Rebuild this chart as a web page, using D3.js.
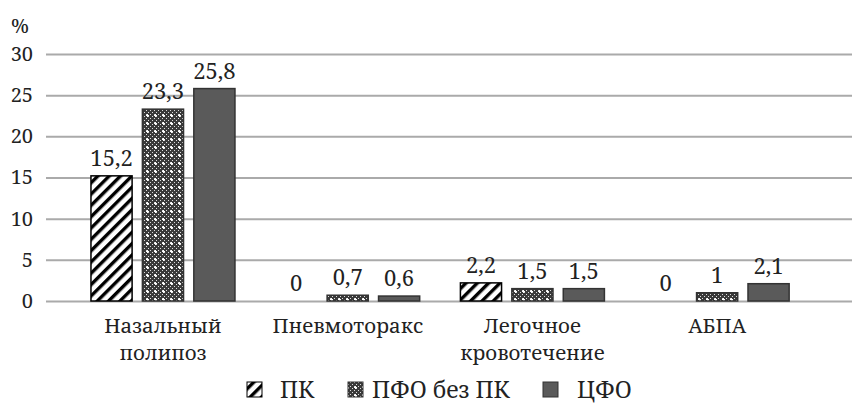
<!DOCTYPE html>
<html><head><meta charset="utf-8">
<script src="https://cdn.jsdelivr.net/npm/d3@7"></script>
<style>body{margin:0;background:#fff}svg{display:block}</style>
</head><body><svg id="c" width="852" height="410"></svg>
<script>
const categories = [["Назальный","полипоз"],["Пневмоторакс"],["Легочное","кровотечение"],["АБПА"]];
const seriesNames = ["ПК","ПФО без ПК","ЦФО"];
const valuesPK = [15.2, 0, 2.2, 0];
const valuesPFO = [23.3, 0.7, 1.5, 1];
const valuesCFO = [25.8, 0.6, 1.5, 2.1];
const valueLabels = [["15,2","0","2,2","0"],["23,3","0,7","1,5","1"],["25,8","0,6","1,5","2,1"]];
const yTicks = [0,5,10,15,20,25,30];

const FONT = "'Noto Serif','Liberation Serif','DejaVu Serif',serif";
const svg = d3.select("#c");
const defs = svg.append("defs");
const p1 = defs.append("pattern").attr("id","stripe").attr("patternUnits","userSpaceOnUse")
  .attr("width",8).attr("height",8).attr("patternTransform","rotate(45)");
p1.append("rect").attr("width",8).attr("height",8).attr("fill","#fff");
p1.append("rect").attr("x",0).attr("width",3.4).attr("height",8).attr("fill","#000");
const p2 = defs.append("pattern").attr("id","dots").attr("patternUnits","userSpaceOnUse")
  .attr("width",8).attr("height",8);
p2.append("rect").attr("width",8).attr("height",8).attr("fill","#3a3a3a");
for (let i=0;i<4;i++) for (let j=0;j<4;j++) if ((i+j)%2===0)
  p2.append("rect").attr("x",i*2).attr("y",j*2).attr("width",1).attr("height",1).attr("fill","#ddd");
p2.append("rect").attr("x",3).attr("y",2).attr("width",1).attr("height",3).attr("fill","#fff");
p2.append("rect").attr("x",2).attr("y",3).attr("width",3).attr("height",1).attr("fill","#fff");

const fills = ["url(#stripe)","url(#dots)","#5a5a5a"];
const strokes = ["#000","#333","#333"];
const data = [valuesPK, valuesPFO, valuesCFO];

const y = d3.scaleLinear().domain([0,30]).range([301,54]);
const x = d3.scaleBand().domain(d3.range(categories.length)).range([70.6,809.5]);
const xi = d3.scaleBand().domain(d3.range(seriesNames.length)).range([-72,72]).paddingInner(0.2);

const yAxis = d3.axisLeft(y).tickValues(yTicks).tickSize(-(852-46)).tickPadding(13);
const ga = svg.append("g").attr("transform","translate(46,0)").call(yAxis).attr("font-family",FONT);
ga.select(".domain").remove();
ga.selectAll(".tick line").attr("stroke","#aaaaaa").attr("stroke-width",2);
ga.selectAll(".tick text").attr("font-size",20).attr("fill","#222");
svg.append("text").attr("x",11).attr("y",33).attr("font-size",20).attr("fill","#222").attr("font-family",FONT).text("%");

seriesNames.forEach((s,si)=>{
  const g = svg.append("g").attr("font-family",FONT).attr("fill","#222");
  g.selectAll("rect").data(data[si]).join("rect")
    .attr("x",(d,i)=>x(i)+x.bandwidth()/2+xi(si))
    .attr("y",d=>y(d))
    .attr("width",xi.bandwidth())
    .attr("height",d=>y(0)-y(d))
    .attr("fill",fills[si]).attr("stroke",d=>d>0?strokes[si]:"none").attr("stroke-width",1.5);
  g.selectAll("text").data(data[si]).join("text")
    .attr("x",(d,i)=>x(i)+x.bandwidth()/2+xi(si)+xi.bandwidth()/2)
    .attr("y",d=>y(d)-10)
    .attr("text-anchor","middle").attr("font-size",22)
    .text((d,i)=>valueLabels[si][i]);
});

const cg = svg.append("g").attr("font-family",FONT).attr("fill","#222");
categories.forEach((lines,i)=>{
  const cx = x(i)+x.bandwidth()/2;
  const t = cg.append("text").attr("x",cx).attr("y",333).attr("text-anchor","middle").attr("font-size",20.5);
  lines.forEach((l,k)=>t.append("tspan").attr("x",cx).attr("dy",k?27:0).text(l));
});

const legX = [247,348,543];
const legTextX = [280,372,577];
seriesNames.forEach((s,si)=>{
  svg.append("rect").attr("x",legX[si]).attr("y",382).attr("width",15).attr("height",15)
    .attr("fill",fills[si]).attr("stroke",strokes[si]).attr("stroke-width",1);
  svg.append("text").attr("x",legTextX[si]).attr("y",398).attr("font-size",23).attr("fill","#222").attr("font-family",FONT).text(s);
});
</script></body></html>
